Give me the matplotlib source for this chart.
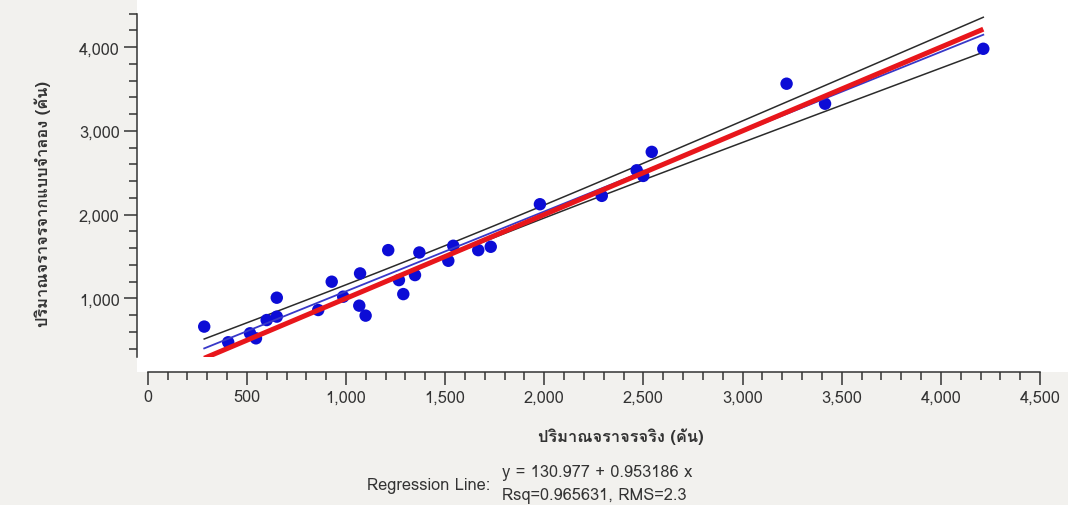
import numpy as np
import matplotlib
matplotlib.use("Agg")
import matplotlib.pyplot as plt
from matplotlib import font_manager
from matplotlib.ft2font import FT2Font
from matplotlib.patches import Rectangle
from matplotlib.ticker import MultipleLocator, StrMethodFormatter

# observed vs. modelled traffic volume (vehicles)
actual = [285, 406, 516, 546, 600, 651, 651, 860, 928, 986, 1071, 1067, 1099,
          1213, 1267, 1289, 1348, 1370, 1516, 1541, 1667, 1730, 1978, 2290,
          2466, 2499, 2542, 3222, 3416, 4214]
modelled = [663, 476, 583, 523, 741, 1008, 782, 861, 1199, 1020, 1298, 913, 794,
            1576, 1218, 1051, 1278, 1548, 1449, 1628, 1576, 1616, 2124, 2224,
            2529, 2462, 2749, 3563, 3324, 3980]

intercept = 130.977
slope = 0.953186
rsq = 0.965631
rms = 2.3

x_label = "ปริมาณจราจรจริง (คัน)"
y_label = "ปริมาณจราจรจากแบบจำลอง (คัน)"


def find_thai_font():
    # first installed font that has Thai glyphs
    for f in font_manager.fontManager.ttflist:
        try:
            if 0x0E1B in FT2Font(f.fname).get_charmap():
                return f.name
        except Exception:
            pass
    return None


thai = find_thai_font()
families = [thai, "DejaVu Sans"] if thai else ["DejaVu Sans"]
plt.rcParams["font.family"] = families

W, H = 1068, 506
fig = plt.figure(figsize=(W / 100, H / 100), dpi=100, facecolor="#f2f1ee")

# white panel behind the plot
fig.add_artist(Rectangle((137 / W, 1 - 373 / H), 1 - 137 / W, 373 / H,
                         transform=fig.transFigure, facecolor="white",
                         edgecolor="none", zorder=0))

ax = fig.add_axes([147.7 / W, 1 - 358 / H, (1040 - 147.7) / W, (358 - 14.6) / H])
ax.set_facecolor("white")

x = np.array(actual, dtype=float)
y = np.array(modelled, dtype=float)
xs = np.linspace(x.min(), x.max(), 200)
fit = intercept + slope * xs

# 95% confidence band of the regression line
n = len(x)
resid = y - (intercept + slope * x)
s = np.sqrt(np.sum(resid ** 2) / (n - 2))
sxx = np.sum((x - x.mean()) ** 2)
half = 2.048 * s * np.sqrt(1 / n + (xs - x.mean()) ** 2 / sxx)

ax.plot(xs, fit + half, color="#2b2b2b", lw=1.1, zorder=2)
ax.plot(xs, fit - half, color="#2b2b2b", lw=1.1, zorder=2)
ax.scatter(x, y, s=80, color="#0c0cd6", edgecolors="none", zorder=3)
ax.plot(xs, fit, color="#3838c8", lw=1.3, zorder=4)
ax.plot(xs, xs, color="#e8161b", lw=3.6, zorder=5, solid_capstyle="butt")

ax.set_xlim(0, 4500)
ax.set_ylim(300, 4400)
ax.xaxis.set_major_locator(MultipleLocator(500))
ax.xaxis.set_minor_locator(MultipleLocator(100))
ax.yaxis.set_major_locator(MultipleLocator(1000))
ax.yaxis.set_minor_locator(MultipleLocator(200))
ax.xaxis.set_major_formatter(StrMethodFormatter("{x:,.0f}"))
ax.yaxis.set_major_formatter(StrMethodFormatter("{x:,.0f}"))

for side in ("top", "right"):
    ax.spines[side].set_visible(False)
ax.spines["left"].set_position(("outward", 7.7))
ax.spines["bottom"].set_position(("outward", 10.8))
for side in ("left", "bottom"):
    ax.spines[side].set_color("#333333")
    ax.spines[side].set_linewidth(1.1)

ax.tick_params(which="major", length=9.5, width=1.1, color="#333333",
               labelsize=11.8, labelcolor="#333333", pad=3)
ax.tick_params(which="minor", length=5.5, width=1.1, color="#333333")

fig.text(621 / W, 1 - 437 / H, x_label, ha="center", va="center",
         fontsize=11.8, fontweight="bold", color="#333333")
fig.text(43 / W, 1 - 204 / H, y_label, ha="center", va="center",
         rotation=90, fontsize=11.8, fontweight="bold", color="#333333")

fig.text(490 / W, 1 - 486 / H, "Regression Line:", ha="right", va="center",
         fontsize=11.8, color="#333333")
fig.text(502 / W, 1 - 473 / H, f"y = {intercept} + {slope} x", ha="left",
         va="center", fontsize=11.8, color="#333333")
fig.text(502 / W, 1 - 496 / H, f"Rsq={rsq}, RMS={rms}", ha="left",
         va="center", fontsize=11.8, color="#333333")

fig.savefig("out.png", dpi=100, facecolor=fig.get_facecolor())
